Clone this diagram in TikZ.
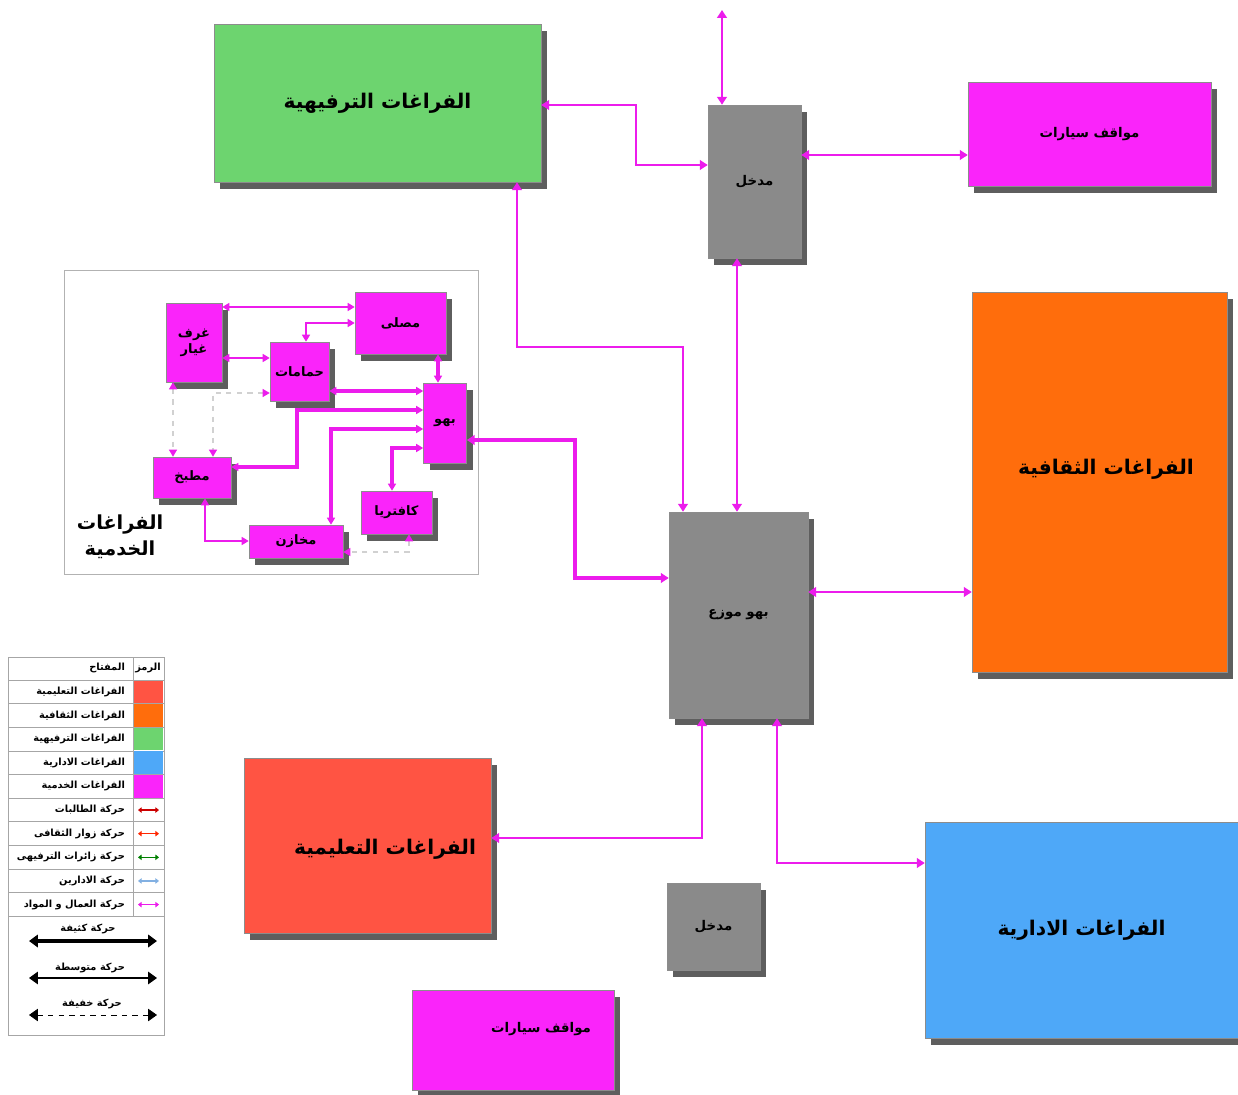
\documentclass[tikz,border=0pt]{standalone}
\usepackage{fontspec}
\usepackage{xcolor}
\usepackage{tikz}
\usetikzlibrary{arrows.meta,shadows}
\newfontfamily\arabicfont[Script=Arabic]{DejaVu Sans}
\TeXXeTstate=1
\newcommand{\artxt}[1]{{\arabicfont\bfseries\beginR #1\endR}}
\definecolor{flowMagenta}{HTML}{EC1CEC}
\definecolor{spaceMagenta}{HTML}{FA24FA}
\definecolor{spaceGreen}{HTML}{6DD46F}
\definecolor{spaceOrange}{HTML}{FF6D0C}
\definecolor{spaceRed}{HTML}{FF5443}
\definecolor{spaceBlue}{HTML}{4EA8F8}
\definecolor{spaceGray}{HTML}{8A8A8A}
\definecolor{shadowGray}{HTML}{5E5E5E}

\begin{document}
\begin{tikzpicture}[
            x=0.02cm, y=-0.02cm,
            spacebox/.style={
                draw=black!45,
                line width=0.3pt,
                inner sep=0pt,
                align=center,
                drop shadow={shadow xshift=3.5pt, shadow yshift=-4pt,
                             fill=shadowGray, opacity=1}
            },
            bigtext/.style={font=\fontsize{11.5}{14}\selectfont},
            midtext/.style={font=\fontsize{7.6}{9}\selectfont},
            svctext/.style={font=\fontsize{7.4}{9}\selectfont},
            keytext/.style={font=\fontsize{5.6}{6}\selectfont, inner sep=1pt},
            flow/.style={
                draw=flowMagenta,
                line width=1.1pt,
                {Triangle[length=4.5pt,width=5.5pt]}-{Triangle[length=4.5pt,width=5.5pt]}
            },
            heavyflow/.style={
                flow,
                line width=2.2pt
            },
            svcflow/.style={
                draw=flowMagenta,
                line width=1pt,
                {Triangle[length=4pt,width=4.5pt]}-{Triangle[length=4pt,width=4.5pt]}
            },
            svcheavy/.style={
                svcflow,
                line width=1.8pt
            },
            lightflow/.style={
                draw=black!18,
                dashed,
                line width=0.8pt,
                {Triangle[length=4pt,width=4.5pt,color=flowMagenta]}-{Triangle[length=4pt,width=4.5pt,color=flowMagenta]}
            }
        ]
        \useasboundingbox (0,0) rectangle (1238,1095);

        % --- Main spaces ---
        \node[spacebox, fill=spaceGreen, minimum width=6.54cm, minimum height=3.16cm, bigtext]
            (recreation) at (377.5,103) {\artxt{الفراغات الترفيهية}};

        \node[spacebox, fill=spaceGray, minimum width=1.86cm, minimum height=3.06cm, midtext]
            (gate) at (754.5,181.5) {\artxt{مدخل}};

        \node[spacebox, fill=spaceMagenta, minimum width=4.86cm, minimum height=2.08cm, midtext]
            (parkingtop) at (1089.5,134) {\artxt{مواقف سيارات}};

        \node[spacebox, fill=spaceOrange, minimum width=5.1cm, minimum height=7.6cm]
            (culture) at (1099.5,482) {};
        \node[bigtext] (culturelbl) at (1106,469) {\artxt{الفراغات الثقافية}};

        \node[spacebox, fill=spaceGray, minimum width=2.78cm, minimum height=4.12cm, midtext]
            (lobby) at (738.5,615) {\artxt{بهو موزع}};

        \node[spacebox, fill=spaceRed, minimum width=4.94cm, minimum height=3.5cm]
            (education) at (367.5,845.5) {};
        \node[bigtext] (educationlbl) at (385,849) {\artxt{الفراغات التعليمية}};

        \node[spacebox, fill=spaceGray, minimum width=1.86cm, minimum height=1.74cm, midtext]
            (gatebottom) at (713.5,926.5) {\artxt{مدخل}};

        \node[spacebox, fill=spaceBlue, minimum width=6.26cm, minimum height=4.32cm, bigtext]
            (admin) at (1081.5,930) {\artxt{الفراغات الادارية}};

        \node[spacebox, fill=spaceMagenta, minimum width=4.04cm, minimum height=2cm]
            (parkingbottom) at (513,1040) {};
        \node[midtext] (parkingbottomlbl) at (541,1029) {\artxt{مواقف سيارات}};

        % --- Service spaces ---
        \node[draw=black!30, line width=0.4pt, fill=white, minimum width=8.28cm, minimum height=6.08cm]
            (servframe) at (271,422) {};

        \node[spacebox, fill=spaceMagenta, minimum width=1.12cm, minimum height=1.58cm, svctext]
            (ghuraf) at (194,342.5) {\artxt{غرف}\\\artxt{غيار}};
        \node[spacebox, fill=spaceMagenta, minimum width=1.82cm, minimum height=1.24cm, svctext]
            (musalla) at (400.5,323) {\artxt{مصلى}};
        \node[spacebox, fill=spaceMagenta, minimum width=1.18cm, minimum height=1.18cm, svctext]
            (hammam) at (299.5,371.5) {\artxt{حمامات}};
        \node[spacebox, fill=spaceMagenta, minimum width=0.86cm, minimum height=1.6cm, svctext]
            (bahw) at (445,423) {\artxt{بهو}};
        \node[spacebox, fill=spaceMagenta, minimum width=1.56cm, minimum height=0.82cm, svctext]
            (matbakh) at (192,477.5) {\artxt{مطبخ}};
        \node[spacebox, fill=spaceMagenta, minimum width=1.42cm, minimum height=0.86cm, svctext]
            (cafe) at (396.5,512.5) {\artxt{كافتريا}};
        \node[spacebox, fill=spaceMagenta, minimum width=1.88cm, minimum height=0.66cm, svctext]
            (makhazin) at (296,541.5) {\artxt{مخازن}};

        \node[font=\fontsize{11}{15}\selectfont, align=center]
            (servtitle) at (120,537) {\artxt{الفراغات}\\\artxt{الخدمية}};

        \draw[svcflow] (ghuraf.east |- 0,307) -- (musalla.west |- 0,307);
        \draw[svcflow] (musalla.west |- 0,323) -| (hammam.north -| 306,0);
        \draw[svcflow] (ghuraf.east |- 0,358) -- (hammam.west |- 0,358);
        \draw[svcheavy] (musalla.south -| 438,0) -- (bahw.north -| 438,0);
        \draw[svcheavy] (hammam.east |- 0,391) -- (bahw.west |- 0,391);
        \draw[svcheavy] (bahw.west |- 0,410) -| (297,467) -- (matbakh.east |- 0,467);
        \draw[svcheavy] (bahw.west |- 0,429) -| (makhazin.north -| 331,0);
        \draw[svcheavy] (bahw.west |- 0,448) -| (cafe.north -| 392,0);
        \draw[svcflow] (matbakh.south -| 205,0) |- (makhazin.west |- 0,541);
        \draw[lightflow] (ghuraf.south -| 173,0) -- (matbakh.north -| 173,0);
        \draw[lightflow] (hammam.west |- 0,393) -| (matbakh.north -| 213,0);
        \draw[lightflow] (cafe.south -| 409,0) |- (makhazin.east |- 0,552);

        % --- Main connections ---
        \coordinate (gateout) at (722,10);
        \draw[flow] (gateout) -- (gate.north -| gateout);
        \draw[flow] (recreation.east |- 0,105) -| (636,165) -- (gate.west |- 0,165);
        \draw[flow] (gate.east |- 0,155) -- (parkingtop.west |- 0,155);
        \draw[flow] (recreation.south -| 517,0) |- (683,347) -- (lobby.north -| 683,0);
        \draw[flow] (gate.south -| 737,0) -- (lobby.north -| 737,0);
        \draw[flow] (lobby.east |- 0,592) -- (culture.west |- 0,592);
        \draw[flow] (lobby.south -| 702,0) |- (education.east |- 0,838);
        \draw[flow] (lobby.south -| 777,0) |- (admin.west |- 0,863);
        \draw[heavyflow] (bahw.east |- 0,440) -| (575,578) -- (lobby.west |- 0,578);

        % --- Key ---
        \node[draw=black!35, line width=0.4pt, fill=white, minimum width=3.12cm, minimum height=7.56cm]
            (keyframe) at (86,846) {};
        \draw[black!35, line width=0.4pt] (133,657) -- (133,917);
        \foreach \k in {0,...,10}
            \draw[black!35, line width=0.4pt] (8,680+23.64*\k) -- (164,680+23.64*\k);
        \node[keytext, anchor=east] (keyhead) at (127,668) {\artxt{المفتاح}};
        \node[keytext] (symhead) at (148,668) {\artxt{الرمز}};

        \foreach \lbl/\clr [count=\i] in {%
                الفراغات التعليمية/spaceRed,
                الفراغات الثقافية/spaceOrange,
                الفراغات الترفيهية/spaceGreen,
                الفراغات الادارية/spaceBlue,
                الفراغات الخدمية/spaceMagenta} {
            \pgfmathsetmacro\ry{668.2+23.64*\i}
            \fill[\clr] (134,\ry-11.3) rectangle (163,\ry+11.3);
            \node[keytext, anchor=east] (key\i) at (127,\ry) {\artxt{\lbl}};
        }
        \foreach \lbl/\clr [count=\i from 6] in {%
                حركة الطالبات/red!80!black,
                حركة زوار الثقافى/red!70!orange,
                حركة زائرات الترفيهى/green!50!black,
                حركة الادارين/cyan!60!blue!50,
                حركة العمال و المواد/flowMagenta} {
            \pgfmathsetmacro\ry{668.2+23.64*\i}
            \draw[\clr, line width=0.8pt, {Triangle[length=2pt,width=3pt]}-{Triangle[length=2pt,width=3pt]}]
                (138,\ry) -- (159,\ry);
            \node[keytext, anchor=east] (key\i) at (127,\ry) {\artxt{\lbl}};
        }

        \node[keytext] (densekey) at (88,929) {\artxt{حركة كثيفة}};
        \draw[line width=1.8pt, {Triangle[length=5pt,width=7pt]}-{Triangle[length=5pt,width=7pt]}]
            (29,941) -- (157,941);
        \node[keytext] (mediumkey) at (90,968) {\artxt{حركة متوسطة}};
        \draw[line width=0.9pt, {Triangle[length=5pt,width=7pt]}-{Triangle[length=5pt,width=7pt]}]
            (29,978) -- (157,978);
        \node[keytext] (lightkey) at (92,1004) {\artxt{حركة خفيفة}};
        \draw[line width=0.4pt, dashed, {Triangle[length=5pt,width=7pt]}-{Triangle[length=5pt,width=7pt]}]
            (29,1015) -- (157,1015);

        \end{tikzpicture}
\end{document}
